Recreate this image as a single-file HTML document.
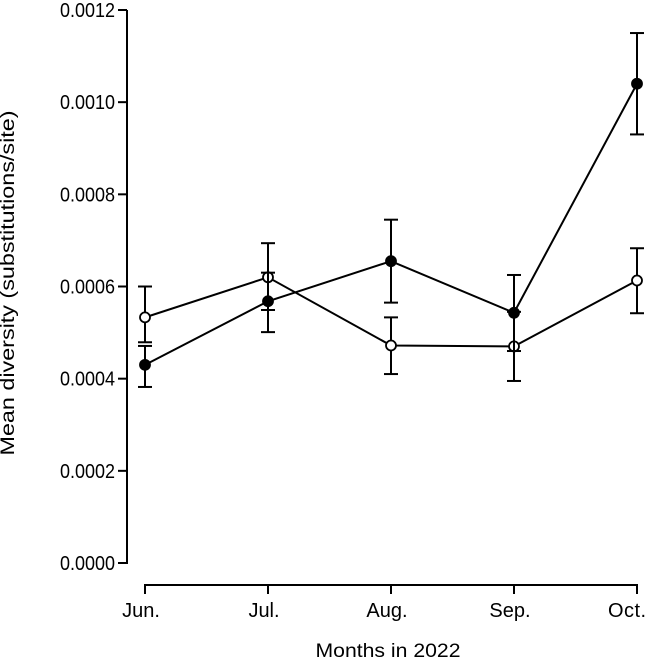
<!DOCTYPE html>
<html><head><meta charset="utf-8"><style>
body{margin:0;background:#fff;}
svg text{font-family:"Liberation Sans",sans-serif;fill:#000;}
</style></head><body>
<svg id="chart" width="646" height="659"></svg>
<script>
const months=["Jun.","Jul.","Aug.","Sep.","Oct."];
const yTicks=[0,0.0002,0.0004,0.0006,0.0008,0.0010,0.0012];
const filledMean=[0.00043,0.000568,0.000655,0.000543,0.00104];
const filledLow=[0.000382,0.000501,0.000565,0.00046,0.00093];
const filledHigh=[0.000471,0.00063,0.000745,0.000625,0.00115];
const openMean=[0.000533,0.00062,0.000472,0.00047,0.000613];
const openLow=[0.000479,0.000549,0.00041,0.000395,0.000542];
const openHigh=[0.0006,0.000694,0.000533,0.000545,0.000683];
const NS="http://www.w3.org/2000/svg";
const svg=document.getElementById('chart');
const y=v=>563-v/0.0012*553;
const x=i=>145+i*123;
function mk(t,a,p){const e=document.createElementNS(NS,t);for(const k in a)e.setAttribute(k,a[k]);(p||svg).appendChild(e);return e;}
const ya=mk('g',{});


mk('line',{x1:127,y1:y(0.0012),x2:127,y2:y(0)+1,stroke:'#000','stroke-width':2},ya);
yTicks.forEach(v=>{
 mk('line',{x1:118,x2:127,y1:y(v),y2:y(v),stroke:'#000','stroke-width':2},ya);
 const t=mk('text',{x:115,y:y(v)+7,'text-anchor':'end','font-size':20,textLength:55,lengthAdjust:'spacingAndGlyphs'},ya);t.textContent=v.toFixed(4);
});
const yt=mk('text',{transform:'translate(14,283) rotate(-90)','text-anchor':'middle','font-size':19,textLength:345,lengthAdjust:'spacingAndGlyphs'});
yt.textContent='Mean diversity (substitutions/site)';


const xa=mk('g',{});


mk('line',{x1:x(0)-1,x2:x(4)+1,y1:585,y2:585,stroke:'#000','stroke-width':2},xa);
months.forEach((m,i)=>{
 mk('line',{x1:x(i),x2:x(i),y1:585,y2:594,stroke:'#000','stroke-width':2},xa);
 const last=i===months.length-1;
 const t=mk('text',{x:last?646:x(i)-4,y:617,'text-anchor':last?'end':'middle','font-size':20,textLength:last?38:null},xa);
 if(!last)t.removeAttribute('textLength');
 t.textContent=m;
});
const xt=mk('text',{x:388,y:657,'text-anchor':'middle','font-size':19,textLength:145,lengthAdjust:'spacingAndGlyphs'});
xt.textContent='Months in 2022';


function series(mean,lo,hi,fill,name){
 const g=mk('g',{});
 
 
 mean.forEach((v,i)=>{
  mk('line',{x1:x(i),x2:x(i),y1:y(lo[i]),y2:y(hi[i]),stroke:'#000','stroke-width':2},g);
  mk('line',{x1:x(i)-7,x2:x(i)+7,y1:y(lo[i]),y2:y(lo[i]),stroke:'#000','stroke-width':2},g);
  mk('line',{x1:x(i)-7,x2:x(i)+7,y1:y(hi[i]),y2:y(hi[i]),stroke:'#000','stroke-width':2},g);
 });
 mk('polyline',{points:mean.map((v,i)=>x(i)+','+y(v)).join(' '),fill:'none',stroke:'#000','stroke-width':2},g);
 mean.forEach((v,i)=>{
  const c=mk('circle',{cx:x(i),cy:y(v),r:5,fill:fill,stroke:'#000','stroke-width':1.8},g);
  
  
 });
}
series(openMean,openLow,openHigh,'#fff','open-series');
series(filledMean,filledLow,filledHigh,'#000','filled-series');
</script>
</body></html>
